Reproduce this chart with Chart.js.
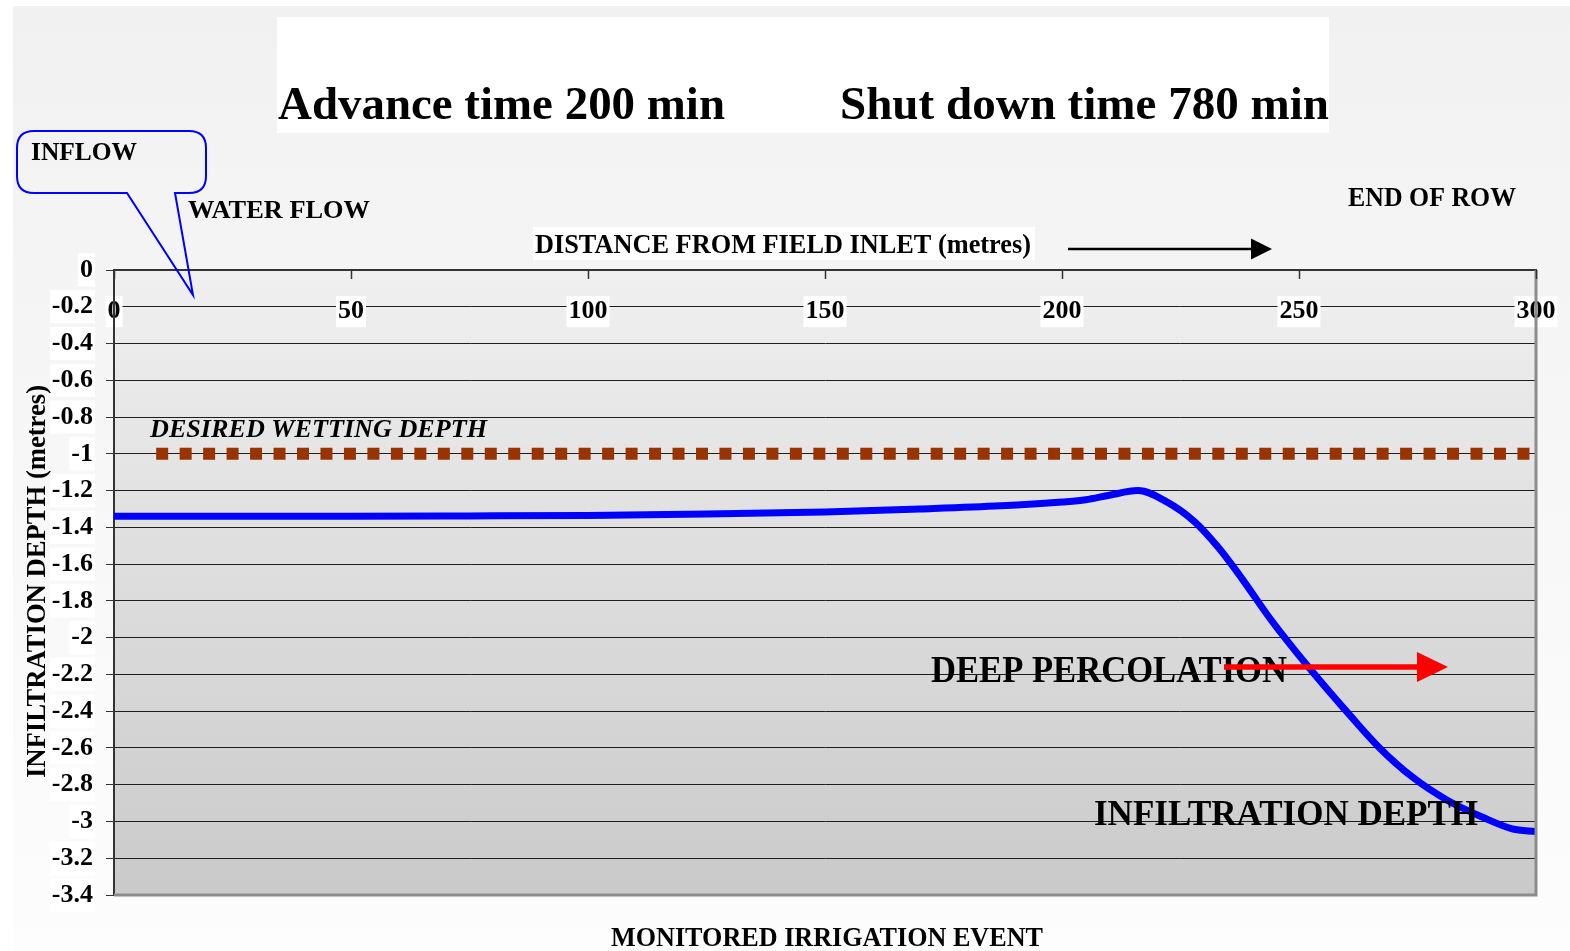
<!DOCTYPE html>
<html>
<head>
<meta charset="utf-8">
<script src="https://cdn.jsdelivr.net/npm/chart.js@4"></script>
<style>
  body { margin: 0; background: #fff; }
  canvas { display: block; }
</style>
</head>
<body>
<canvas id="irrigationChart" width="1570" height="951"></canvas>
<script>
// distance from field inlet (m) and infiltration depth (m)
const distance = [0, 25, 50, 75, 100, 125, 150, 170, 187, 200, 205, 210, 216, 222, 228, 233, 238, 244, 252, 261, 267, 274, 281, 289, 295, 300];
const infiltration = [-1.34, -1.34, -1.34, -1.338, -1.335, -1.328, -1.316, -1.30, -1.283, -1.262, -1.25, -1.225, -1.20, -1.26, -1.37, -1.51, -1.68, -1.90, -2.16, -2.43, -2.60, -2.76, -2.88, -2.98, -3.04, -3.055];
const desiredX = [8.9, 298.7];
const desiredDepth = [-1, -1];

const FONT = '"Liberation Serif", "Times New Roman", serif';

function toPoints(xs, ys) {
    return xs.map((x, i) => ({ x: x, y: ys[i] }));
}

// draw text squeezed/stretched to the width it has in the picture
function fitText(ctx, s, x, y, size, w, italic) {
    ctx.font = (italic ? 'italic ' : '') + 'bold ' + size + 'px ' + FONT;
    const m = ctx.measureText(s).width;
    ctx.save();
    ctx.translate(x, y);
    ctx.scale(w / m, 1);
    ctx.textAlign = 'left';
    ctx.textBaseline = 'alphabetic';
    ctx.fillStyle = '#000';
    ctx.fillText(s, 0, 0);
    ctx.restore();
}

function arrow(ctx, x1, x2, tip, y, lw, head, color) {
    ctx.save();
    ctx.strokeStyle = color;
    ctx.fillStyle = color;
    ctx.lineWidth = lw;
    ctx.beginPath();
    ctx.moveTo(x1, y);
    ctx.lineTo(x2 + 1, y);
    ctx.stroke();
    ctx.beginPath();
    ctx.moveTo(x2, y - head);
    ctx.lineTo(tip, y);
    ctx.lineTo(x2, y + head);
    ctx.closePath();
    ctx.fill();
    ctx.restore();
}

const backdrop = {
    id: 'backdrop',
    beforeDraw(chart) {
        const ctx = chart.ctx;
        const a = chart.chartArea;
        ctx.save();
        let g = ctx.createLinearGradient(0, 6, 0, 951);
        g.addColorStop(0, '#f1f1f1');
        g.addColorStop(1, '#fdfdfd');
        ctx.fillStyle = g;
        ctx.fillRect(13, 6, 1557, 945);
        // title box
        ctx.fillStyle = '#fff';
        ctx.fillRect(277, 17, 1052, 116);
        // plot area
        g = ctx.createLinearGradient(0, a.top, 0, a.bottom);
        g.addColorStop(0, '#f0f0f0');
        g.addColorStop(1, '#cacaca');
        ctx.fillStyle = g;
        ctx.fillRect(a.left, a.top, a.right - a.left, a.bottom - a.top);
        ctx.restore();
    },
    afterDraw(chart) {
        const ctx = chart.ctx;
        const a = chart.chartArea;
        const xs = chart.scales.x;
        ctx.save();

        // grey plot border right/bottom
        ctx.strokeStyle = '#8c8c8c';
        ctx.lineWidth = 3;
        ctx.beginPath();
        ctx.moveTo(a.right, a.top);
        ctx.lineTo(a.right, a.bottom);
        ctx.lineTo(a.left, a.bottom);
        ctx.stroke();

        // inward tick marks on the top axis
        ctx.strokeStyle = '#333';
        ctx.lineWidth = 1.5;
        xs.ticks.forEach(t => {
            const px = Math.round(xs.getPixelForValue(t.value)) + 0.5;
            ctx.beginPath();
            ctx.moveTo(px, a.top);
            ctx.lineTo(px, a.top + 9);
            ctx.stroke();
        });

        // title
        fitText(ctx, 'Advance time 200 min', 278, 119, 47, 447);
        fitText(ctx, 'Shut down time 780 min', 840, 119, 47, 489);

        // callout
        ctx.strokeStyle = '#0000ff';
        ctx.lineWidth = 2;
        const l = 17, r = 206, t = 131, b = 193, rad = 17;
        ctx.beginPath();
        ctx.moveTo(127, b);
        ctx.lineTo(l + rad, b);
        ctx.quadraticCurveTo(l, b, l, b - rad);
        ctx.lineTo(l, t + rad);
        ctx.quadraticCurveTo(l, t, l + rad, t);
        ctx.lineTo(r - rad, t);
        ctx.quadraticCurveTo(r, t, r, t + rad);
        ctx.lineTo(r, b - rad);
        ctx.quadraticCurveTo(r, b, r - rad, b);
        ctx.lineTo(175, b);
        ctx.lineTo(193, 295);
        ctx.closePath();
        ctx.stroke();
        fitText(ctx, 'INFLOW', 31, 160, 26, 106);
        fitText(ctx, 'WATER FLOW', 188, 218, 26, 182);
        fitText(ctx, 'END OF ROW', 1348, 206, 27, 168);

        // distance label + arrow
        ctx.fillStyle = '#fff';
        ctx.fillRect(533, 227, 502, 33);
        fitText(ctx, 'DISTANCE FROM FIELD INLET (metres)', 535, 253, 27, 496);
        arrow(ctx, 1068, 1251, 1272, 249, 2.5, 10.5, '#000');

        fitText(ctx, 'DESIRED WETTING DEPTH', 150, 437, 26, 337, true);
        fitText(ctx, 'DEEP PERCOLATION', 931, 682, 37, 356);
        arrow(ctx, 1224, 1417, 1448, 667, 5.5, 15, '#ff0000');
        fitText(ctx, 'INFILTRATION DEPTH', 1094, 825, 35, 384);
        fitText(ctx, 'MONITORED IRRIGATION EVENT', 611, 946, 28, 432);

        // y axis title
        ctx.save();
        ctx.translate(45, 778);
        ctx.rotate(-Math.PI / 2);
        fitText(ctx, 'INFILTRATION DEPTH (metres)', 0, 0, 28, 393);
        ctx.restore();

        ctx.restore();
    }
};

const ctx = document.getElementById('irrigationChart').getContext('2d');
const chart = new Chart(ctx, {
    type: 'line',
    data: {
        datasets: [{
            label: 'Infiltration depth',
            data: toPoints(distance, infiltration),
            borderColor: '#0000ff',
            borderWidth: 7,
            pointRadius: 0,
            cubicInterpolationMode: 'monotone',
            fill: false
        }, {
            label: 'Desired wetting depth',
            data: toPoints(desiredX, desiredDepth),
            borderColor: '#993300',
            borderWidth: 12,
            borderDash: [12, 11.47],
            borderCapStyle: 'butt',
            pointRadius: 0,
            fill: false
        }]
    },
    options: {
        responsive: false,
        animation: false,
        layout: {
            padding: { left: 0, top: 0, right: 34, bottom: 56 }
        },
        plugins: {
            legend: { display: false },
            tooltip: { enabled: false }
        },
        scales: {
            x: {
                type: 'linear',
                position: 'top',
                min: 0,
                max: 300,
                afterFit(scale) {
                    scale.height = 270;
                    scale.paddingLeft = 0;
                    scale.paddingRight = 0;
                },
                ticks: {
                    stepSize: 50,
                    mirror: true,
                    padding: 26,
                    color: '#000',
                    font: { family: FONT, size: 26, weight: 'bold' },
                    showLabelBackdrop: true,
                    backdropColor: '#fff',
                    backdropPadding: { x: 2, y: 0 }
                },
                grid: { drawOnChartArea: false, drawTicks: false },
                border: { color: '#333', width: 2 }
            },
            y: {
                min: -3.4,
                max: 0,
                afterFit(scale) { scale.width = 114; },
                ticks: {
                    stepSize: 0.2,
                    padding: 13,
                    color: '#000',
                    font: { family: FONT, size: 26, weight: 'bold' },
                    showLabelBackdrop: true,
                    backdropColor: '#fff',
                    backdropPadding: { x: 2, y: 1 },
                    callback: v => String(+v.toFixed(1))
                },
                grid: { color: '#1e1e1e', lineWidth: 1, tickLength: 8, tickColor: '#333' },
                border: { color: '#333', width: 2 }
            }
        }
    },
    plugins: [backdrop]
});
</script>
</body>
</html>
